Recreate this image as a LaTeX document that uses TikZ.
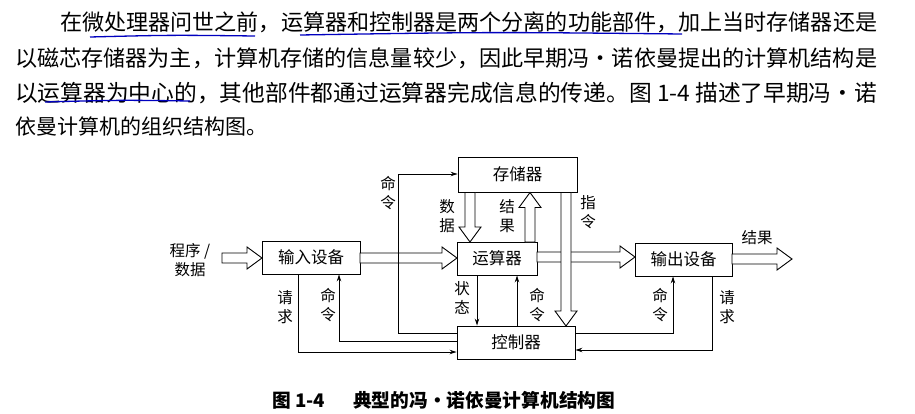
\documentclass[tikz,border=0pt]{standalone}
\usepackage{fontspec}
\newfontfamily\cjk{Noto Sans CJK SC}
\usetikzlibrary{arrows.meta,calc}
\newcommand\hollowR[3]{\draw[hol] (#1,#3-5) -- (#2-15,#3-5) -- (#2-15,#3-11) -- (#2,#3) -- (#2-15,#3+11) -- (#2-15,#3+5) -- (#1,#3+5) -- cycle;}
\newcommand\hollowD[3]{\draw[hol] (#1-5,#2) -- (#1-5,#3-15) -- (#1-11,#3-15) -- (#1,#3) -- (#1+11,#3-15) -- (#1+5,#3-15) -- (#1+5,#2) -- cycle;}
\newcommand\hollowU[3]{\draw[hol] (#1-5,#2) -- (#1-5,#3+15) -- (#1-11,#3+15) -- (#1,#3) -- (#1+11,#3+15) -- (#1+5,#3+15) -- (#1+5,#2) -- cycle;}
\begin{document}
\begin{tikzpicture}[x=1pt,y=-1pt,
  box/.style={draw,line width=0.9pt,inner sep=0pt,font=\cjk\fontsize{16.5}{18}\selectfont},
  lbl/.style={font=\cjk\fontsize{15.5}{19}\selectfont,inner sep=0pt,align=center},
  thinarr/.style={line width=0.8pt,-{Stealth[length=7pt,width=4.5pt]}},
  hol/.style={draw,fill=white,line width=0.9pt,line join=miter},
  para/.style={anchor=west,inner sep=0pt,font=\cjk\fontsize{21}{24}\selectfont},
  uline/.style={draw=blue!75!black,line width=1.3pt}]
\useasboundingbox (0,0) rectangle (915,414);
% paragraph
\node[para] (l1) at (60,22) {\resizebox{817pt}{!}{在微处理器问世之前，运算器和控制器是两个分离的功能部件，加上当时存储器还是}};
\node[para] (l2) at (15,58) {\resizebox{862pt}{!}{以磁芯存储器为主，计算机存储的信息量较少，因此早期冯・诺依曼提出的计算机结构是}};
\node[para] (l3) at (15,93) {\resizebox{862pt}{!}{以运算器为中心的，其他部件都通过运算器完成信息的传递。图 1-4 描述了早期冯・诺}};
\node[para] (l4) at (15,127) {依曼计算机的组织结构图。};
\draw[uline] (90,37) .. controls (170,35) .. (255,36);
\draw[uline] (300,35) .. controls (490,32) .. (682,34);
\draw[uline] (45,102) .. controls (120,100) .. (190,101);
% boxes
\node[box,minimum width=119pt,minimum height=35pt] (mem) at (517.5,174.5) {存储器};
\node[box,minimum width=98pt,minimum height=33pt] (in) at (311,257.5) {输入设备};
\node[box,minimum width=80pt,minimum height=33pt] (alu) at (497,258.5) {运算器};
\node[box,minimum width=118pt,minimum height=33pt] (ctl) at (516,342.5) {控制器};
\node[box,minimum width=97pt,minimum height=33pt] (out) at (683.5,259.5) {输出设备};
% hollow arrows
\hollowR{222}{262}{258}
\hollowR{360}{457}{258}
\hollowR{537}{635}{257}
\hollowR{732}{792}{259}
\hollowD{470}{192.5}{242}
\hollowU{530}{242}{192.5}
\hollowD{566}{192.5}{326}
% thin arrows
\draw[thinarr] (ctl.west |- 0,333) -- (398,333) -- (398,174) -- (mem.west |- 0,174);
\draw[thinarr] (ctl.west |- 0,341) -- (339,341) -- (in.south -| 339,0);
\draw[thinarr] (in.south -| 298,0) -- (298,352) -- (ctl.west |- 0,352);
\draw[thinarr] (alu.south -| 477,0) -- (ctl.north -| 477,0);
\draw[thinarr] (ctl.north -| 517,0) -- (alu.south -| 517,0);
\draw[thinarr] (ctl.east |- 0,333) -- (673,333) -- (out.south -| 673,0);
\draw[thinarr] (out.south -| 712,0) -- (712,350) -- (ctl.east |- 0,350);
% labels
\node[lbl] (t1) at (190,260) {程序 /\\数据};
\node[lbl] (t2) at (388,193) {命\\令};
\node[lbl] (t3) at (447,216) {数\\据};
\node[lbl] (t4) at (507,216) {结\\果};
\node[lbl] (t5) at (588,212) {指\\令};
\node[lbl] (t6) at (757,238) {结果};
\node[lbl] (t7) at (285,307) {请\\求};
\node[lbl] (t8) at (328,305) {命\\令};
\node[lbl] (t9) at (462,298) {状\\态};
\node[lbl] (t10) at (537,305) {命\\令};
\node[lbl] (t11) at (660,305) {命\\令};
\node[lbl] (t12) at (727,307) {请\\求};
\node[anchor=west,inner sep=0pt,font=\cjk\bfseries\fontsize{16.5}{18}\selectfont] (cap) at (272,400) {\resizebox{343pt}{!}{图 1-4\hspace{1.5em}典型的冯・诺依曼计算机结构图}};
\end{tikzpicture}
\end{document}
